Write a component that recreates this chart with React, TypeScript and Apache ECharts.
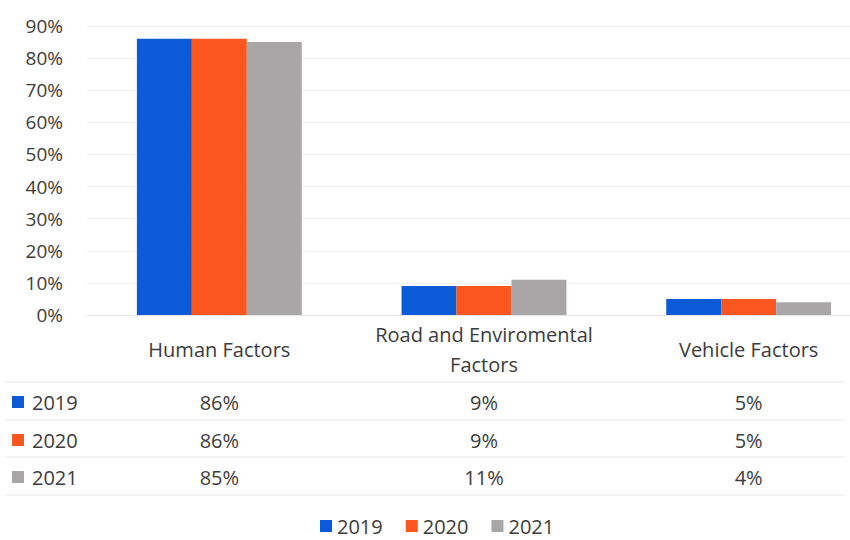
import React, { useEffect, useRef } from "react";
import * as echarts from "echarts";

const categories = ["Human Factors", "Road and Enviromental\nFactors", "Vehicle Factors"];
const seriesNames = ["2019", "2020", "2021"];
const values2019 = [86, 9, 5];
const values2020 = [86, 9, 5];
const values2021 = [85, 11, 4];
const seriesValues = [values2019, values2020, values2021];
const colors = ["#0b5bd8", "#fa561e", "#a9a6a8"];
const yTicks = { min: 0, max: 90, interval: 10 };

const FONT = "'Open Sans', sans-serif";
const TEXT = "#3c3c3c";
const FS = 20;
const FS_Y = 19;

export default function App() {
  const ref = useRef<HTMLDivElement>(null);
  useEffect(() => {
    if (!ref.current) return;
    const chart = echarts.init(ref.current, null, { renderer: "svg" });
    const gridBottomY = 315;
    const rowY = [402, 440, 477];
    const tableAxes = seriesValues.map((vals, i) => ({
      type: "category" as const,
      gridIndex: 0,
      position: "bottom" as const,
      data: categories,
      axisLine: { show: false },
      axisTick: { show: false },
      splitLine: { show: false },
      axisLabel: {
        show: true,
        interval: 0,
        margin: rowY[i] - gridBottomY,
        verticalAlign: "middle" as const,
        color: TEXT,
        fontFamily: FONT,
        fontSize: FS,
        formatter: (_v: string, idx: number) => `${vals[idx]}%`,
      },
    }));
    const graphics: any[] = [];
    [382, 420, 457, 495].forEach((y) => {
      graphics.push({
        type: "line",
        shape: { x1: 5, y1: y, x2: 845, y2: y },
        style: { stroke: "#e6e6e6", lineWidth: 1 },
        silent: true,
      });
    });
    seriesNames.forEach((name, i) => {
      graphics.push({
        type: "rect",
        shape: { x: 12, y: rowY[i] - 6, width: 12, height: 12 },
        style: { fill: colors[i] },
      });
      graphics.push({
        type: "text",
        x: 32,
        y: rowY[i],
        style: {
          text: name,
          fill: TEXT,
          font: `${FS}px ${FONT}`,
          verticalAlign: "middle",
          align: "left",
        },
      });
    });
    chart.setOption({
      animation: false,
      backgroundColor: "#ffffff",
      color: colors,
      textStyle: { fontFamily: FONT },
      grid: { left: 87, right: 0, top: 26, bottom: 540 - gridBottomY, containLabel: false },
      legend: {
        show: true,
        top: 511,
        left: 315,
        itemWidth: 12,
        itemHeight: 12,
        itemGap: 23,
        icon: "rect",
        textStyle: { color: TEXT, fontFamily: FONT, fontSize: FS, padding: [0, 0, 0, 0] },
        data: seriesNames,
      },
      xAxis: [
        {
          type: "category",
          data: categories,
          axisLine: { show: true, lineStyle: { color: "#e6e6e6" } },
          axisTick: { show: false },
          axisLabel: {
            interval: 0,
            margin: 34,
            verticalAlign: "middle",
            lineHeight: 30,
            color: TEXT,
            fontFamily: FONT,
            fontSize: FS,
          },
        },
        ...tableAxes,
      ],
      yAxis: {
        type: "value",
        min: yTicks.min,
        max: yTicks.max,
        interval: yTicks.interval,
        axisLine: { show: false },
        axisTick: { show: false },
        splitLine: { show: true, lineStyle: { color: "#f0f0f0" } },
        axisLabel: {
          margin: 24,
          color: TEXT,
          fontFamily: FONT,
          fontSize: FS_Y,
          formatter: "{value}%",
        },
      },
      series: seriesNames.map((name, i) => ({
        name,
        type: "bar",
        data: seriesValues[i],
        barGap: "0%",
        barCategoryGap: "37.7%",
        itemStyle: { color: colors[i] },
      })),
      graphic: graphics,
    });
    return () => chart.dispose();
  }, []);
  return (
    <div style={{ position: "absolute", left: 0, top: 0, width: 850, height: 540, overflow: "hidden", background: "#fff" }}>
      <div ref={ref} style={{ position: "absolute", left: 0, top: 0, width: 881, height: 540 }} />
    </div>
  );
}
